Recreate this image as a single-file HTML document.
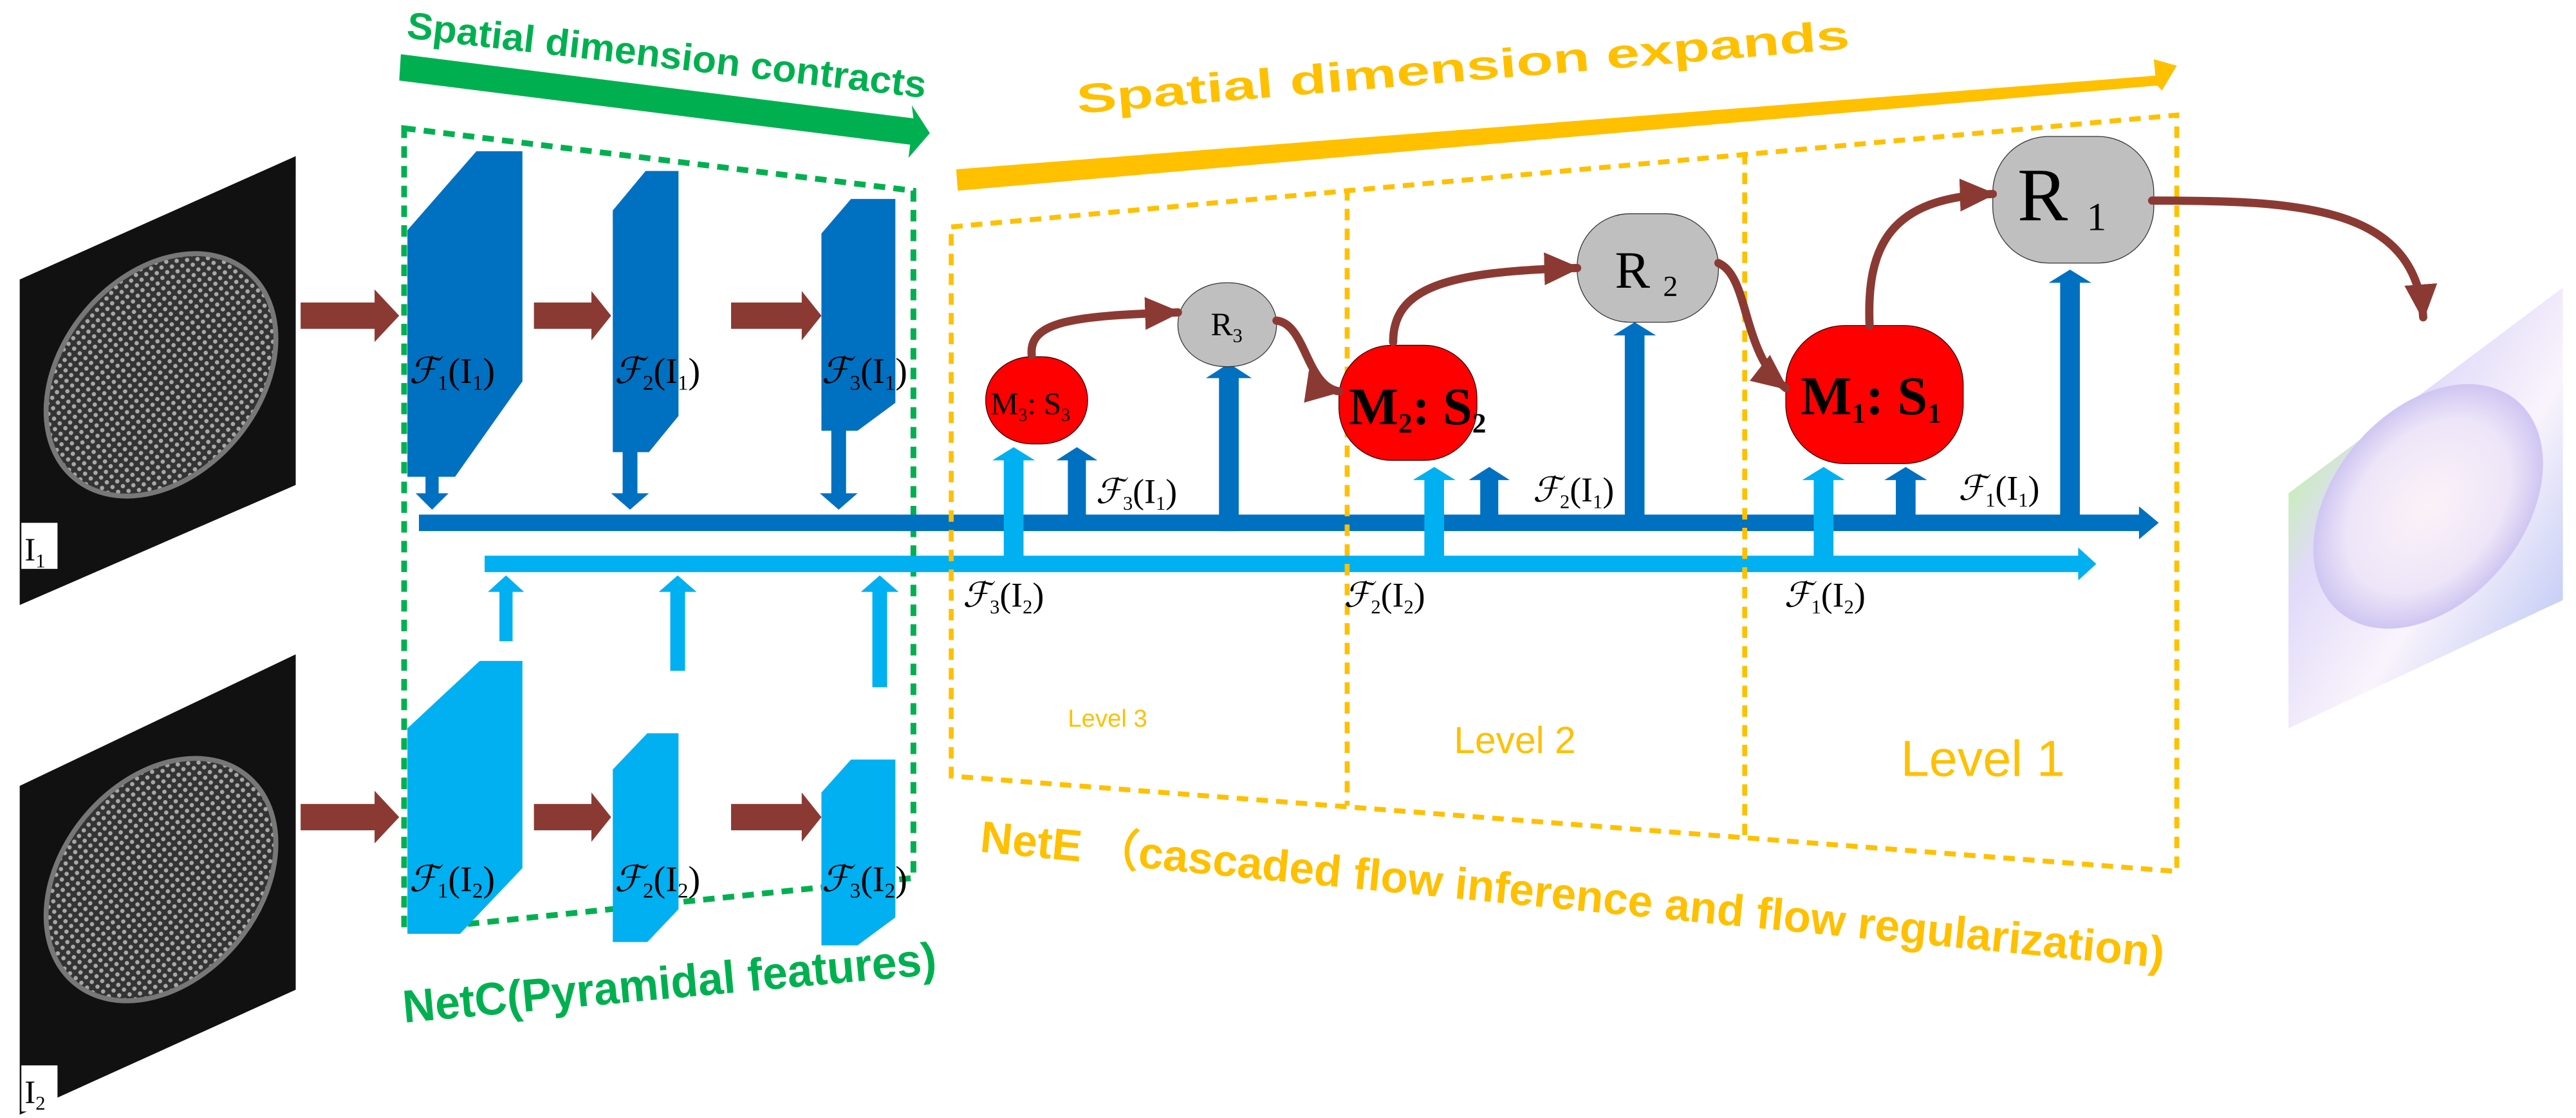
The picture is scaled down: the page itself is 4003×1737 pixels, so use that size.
<!DOCTYPE html>
<html><head><meta charset="utf-8"><style>
html,body{margin:0;padding:0;background:#fff;}
svg{display:block;}
.f{font-family:"Liberation Serif","DejaVu Serif",serif;fill:#000;}
.s{font-family:"Liberation Sans","DejaVu Sans",sans-serif;font-weight:bold;}
</style></head><body>
<svg width="4003" height="1737" viewBox="0 0 1568 680" preserveAspectRatio="none" xmlns="http://www.w3.org/2000/svg">
<defs>
<pattern id="dots" width="4.5" height="4.5" patternUnits="userSpaceOnUse">
<rect width="4.5" height="4.5" fill="#333"/><circle cx="2.25" cy="2.25" r="1.3" fill="#a8a8a8"/>
</pattern>
<linearGradient id="flow" x1="0" y1="0" x2="1" y2="1">
<stop offset="0" stop-color="#ffc890"/><stop offset="0.2" stop-color="#b8f0a0"/><stop offset="0.35" stop-color="#dcd4f8"/><stop offset="0.6" stop-color="#f8f2fb"/><stop offset="0.85" stop-color="#c0c8f5"/><stop offset="1" stop-color="#f0a0f0"/>
</linearGradient>
<radialGradient id="oval" cx="0.5" cy="0.5" r="0.5">
<stop offset="0" stop-color="#fbf2f8"/><stop offset="0.7" stop-color="#eee6f8"/><stop offset="1" stop-color="#cfc6f2"/>
</radialGradient>
<marker id="ah" markerWidth="22" markerHeight="20" refX="20" refY="10" orient="auto" markerUnits="userSpaceOnUse">
<polygon points="0,0 22,10 0,20" fill="#8B3A33"/>
</marker>
</defs>

<g>
<polygon points="12,170 180,95 180,295 12,368" fill="#111"/>
<ellipse cx="98" cy="228" rx="60" ry="82" transform="rotate(40 98 228)" fill="url(#dots)" stroke="#777" stroke-width="3"/>
<rect x="13" y="318" width="22" height="28" fill="#fff"/>
<text x="15" y="341" class="f" font-size="20">I<tspan font-size="12" dy="4">1</tspan></text>
<polygon points="12,478 180,398 180,602 12,678" fill="#111"/>
<ellipse cx="98" cy="535" rx="60" ry="82" transform="rotate(40 98 535)" fill="url(#dots)" stroke="#777" stroke-width="3"/>
<rect x="13" y="648" width="22" height="28" fill="#fff"/>
<text x="15" y="671" class="f" font-size="20">I<tspan font-size="12" dy="4">2</tspan></text>
</g>

<g fill="#8B3A33">
<polygon points="183,184 228,184 228,176 243,192 228,208 228,200 183,200"/>
<polygon points="183,489 228,489 228,481 243,497 228,513 228,505 183,505"/>
<polygon points="325,184 360,184 360,177 372,192 360,207 360,200 325,200"/>
<polygon points="445,184 488,184 488,177 500,192 488,207 488,200 445,200"/>
<polygon points="325,489 360,489 360,482 372,497 360,512 360,505 325,505"/>
<polygon points="445,489 488,489 488,482 500,497 488,512 488,505 445,505"/>
</g>

<path d="M246,78 L556,116 L556,534 L246,566 Z" fill="none" stroke="#00B050" stroke-width="3.5" stroke-dasharray="7,5"/>
<polygon points="244,33 556,72 555,64 566,81 553,96 554,88 243,49" fill="#00B050"/>
<text class="s" font-size="23" fill="#00B050" transform="translate(247,23) rotate(6.6)" textLength="318" lengthAdjust="spacingAndGlyphs">Spatial dimension contracts</text>
<text class="s" font-size="28" fill="#00B050" transform="translate(246,622) rotate(-5.2)" textLength="326" lengthAdjust="spacingAndGlyphs">NetC(Pyramidal features)</text>

<g fill="#0070C0">
<polygon points="248,140 290,92 318,92 318,232 277,290 248,290"/>
<polygon points="373,128 393,104 413,104 413,253 395,275 373,275"/>
<polygon points="500,142 518,121 545,121 545,245 522,262 500,262"/>
<polygon points="259,272 267,272 267,300 273,300 263,310 253,300 259,300"/>
<polygon points="379,262 388,262 388,300 395,300 383.5,310 372,300 379,300"/>
<polygon points="506,252 515,252 515,300 522,300 510.5,310 499,300 506,300"/>
<polygon points="255,313 1302,313 1302,308 1314,318 1302,328 1302,323 255,323"/>
</g>
<g fill="#00B0F0">
<polygon points="248,443 292,402 318,402 318,528 280,568 248,568"/>
<polygon points="373,468 394,446 413,446 413,553 394,573 373,573"/>
<polygon points="500,482 518,462 545,462 545,558 522,575 500,575"/>
<polygon points="304,390 312,390 312,360 319,360 308,350 297,360 304,360"/>
<polygon points="408,408 417,408 417,360 424,360 412.5,350 401,360 408,360"/>
<polygon points="531,418 540,418 540,360 547,360 535.5,350 524,360 531,360"/>
<polygon points="295,338 1265,338 1265,333 1276,343 1265,353 1265,348 295,348"/>
</g>
<g class="f" font-size="22">
<text x="249" y="233" font-style="italic">ℱ<tspan font-size="13" dy="4" font-style="normal">1</tspan><tspan dy="-4" font-style="normal">(I<tspan font-size="13" dy="4">1</tspan><tspan dy="-4">)</tspan></tspan></text>
<text x="374" y="233" font-style="italic">ℱ<tspan font-size="13" dy="4" font-style="normal">2</tspan><tspan dy="-4" font-style="normal">(I<tspan font-size="13" dy="4">1</tspan><tspan dy="-4">)</tspan></tspan></text>
<text x="500" y="233" font-style="italic">ℱ<tspan font-size="13" dy="4" font-style="normal">3</tspan><tspan dy="-4" font-style="normal">(I<tspan font-size="13" dy="4">1</tspan><tspan dy="-4">)</tspan></tspan></text>
<text x="249" y="542" font-style="italic">ℱ<tspan font-size="13" dy="4" font-style="normal">1</tspan><tspan dy="-4" font-style="normal">(I<tspan font-size="13" dy="4">2</tspan><tspan dy="-4">)</tspan></tspan></text>
<text x="374" y="542" font-style="italic">ℱ<tspan font-size="13" dy="4" font-style="normal">2</tspan><tspan dy="-4" font-style="normal">(I<tspan font-size="13" dy="4">2</tspan><tspan dy="-4">)</tspan></tspan></text>
<text x="500" y="542" font-style="italic">ℱ<tspan font-size="13" dy="4" font-style="normal">3</tspan><tspan dy="-4" font-style="normal">(I<tspan font-size="13" dy="4">2</tspan><tspan dy="-4">)</tspan></tspan></text>
</g>

<polygon points="582,103 1312,46 1311,36 1325,40 1316,55 1313,52 583,116" fill="#FFC000"/>
<text class="s" font-size="25" fill="#FFC000" transform="translate(656,69) rotate(-4.8)" textLength="472" lengthAdjust="spacingAndGlyphs">Spatial dimension expands</text>
<path d="M579,138 L1325,70 L1325,530 L579,472 Z" fill="none" stroke="#FFC000" stroke-width="3" stroke-dasharray="7,5"/>
<line x1="820" y1="115" x2="820" y2="490" stroke="#FFC000" stroke-width="3" stroke-dasharray="7,5"/>
<line x1="1062" y1="93" x2="1062" y2="510" stroke="#FFC000" stroke-width="3" stroke-dasharray="7,5"/>
<text x="650" y="442" font-family="Liberation Sans,sans-serif" font-size="15" fill="#FFC000">Level 3</text>
<text x="885" y="458" font-family="Liberation Sans,sans-serif" font-size="23" fill="#FFC000">Level 2</text>
<text x="1157" y="472" font-family="Liberation Sans,sans-serif" font-size="31" fill="#FFC000">Level 1</text>
<text class="s" font-size="27" fill="#FFC000" transform="translate(596,518) rotate(5.6)" textLength="724" lengthAdjust="spacingAndGlyphs">NetE （cascaded flow inference and flow regularization)</text>

<g fill="#00B0F0">
<polygon points="611,343 623,343 623,280 630,280 617,272 604,280 611,280"/>
<polygon points="867,343 879,343 879,292 886,292 873,284 860,292 867,292"/>
<polygon points="1104,343 1116,343 1116,292 1123,292 1110,284 1097,292 1104,292"/>
</g>
<g fill="#0070C0">
<polygon points="650,318 661,318 661,280 668,280 655.5,272 643,280 650,280"/>
<polygon points="742,323 754,323 754,230 762,230 748,221 734,230 742,230"/>
<polygon points="901,318 912,318 912,292 919,292 906.5,284 894,292 901,292"/>
<polygon points="989,318 1001,318 1001,204 1008,204 995,196 982,204 989,204"/>
<polygon points="1154,318 1166,318 1166,292 1173,292 1160,284 1147,292 1154,292"/>
<polygon points="1254,318 1266,318 1266,172 1273,172 1260,164 1247,172 1254,172"/>
</g>
<g class="f" font-size="21">
<text x="667" y="306" font-style="italic">ℱ<tspan font-size="12" dy="4" font-style="normal">3</tspan><tspan dy="-4" font-style="normal">(I<tspan font-size="12" dy="4">1</tspan><tspan dy="-4">)</tspan></tspan></text>
<text x="586" y="369" font-style="italic">ℱ<tspan font-size="12" dy="4" font-style="normal">3</tspan><tspan dy="-4" font-style="normal">(I<tspan font-size="12" dy="4">2</tspan><tspan dy="-4">)</tspan></tspan></text>
<text x="933" y="305" font-style="italic">ℱ<tspan font-size="12" dy="4" font-style="normal">2</tspan><tspan dy="-4" font-style="normal">(I<tspan font-size="12" dy="4">1</tspan><tspan dy="-4">)</tspan></tspan></text>
<text x="818" y="369" font-style="italic">ℱ<tspan font-size="12" dy="4" font-style="normal">2</tspan><tspan dy="-4" font-style="normal">(I<tspan font-size="12" dy="4">2</tspan><tspan dy="-4">)</tspan></tspan></text>
<text x="1192" y="304" font-style="italic">ℱ<tspan font-size="12" dy="4" font-style="normal">1</tspan><tspan dy="-4" font-style="normal">(I<tspan font-size="12" dy="4">1</tspan><tspan dy="-4">)</tspan></tspan></text>
<text x="1086" y="369" font-style="italic">ℱ<tspan font-size="12" dy="4" font-style="normal">1</tspan><tspan dy="-4" font-style="normal">(I<tspan font-size="12" dy="4">2</tspan><tspan dy="-4">)</tspan></tspan></text>
</g>

<rect x="600" y="217" width="62" height="53" rx="28" ry="26" fill="#FF0000" stroke="#300" stroke-width="0.5"/>
<text x="603" y="252" class="f" font-size="19">M<tspan font-size="11" dy="4">3</tspan><tspan dy="-4">:  S</tspan><tspan font-size="11" dy="4">3</tspan></text>
<rect x="717" y="172" width="60" height="51" rx="29" ry="25" fill="#BFBFBF" stroke="#333" stroke-width="0.5"/>
<text x="737" y="204" class="f" font-size="20">R<tspan font-size="12" dy="4">3</tspan></text>
<rect x="815" y="210" width="84" height="70" rx="32" ry="32" fill="#FF0000" stroke="#300" stroke-width="0.5"/>
<text x="821" y="258" class="f" font-size="32" font-weight="bold">M<tspan font-size="17" dy="5">2</tspan><tspan dy="-5">: S</tspan><tspan font-size="17" dy="5">2</tspan></text>
<rect x="960" y="130" width="86" height="66" rx="32" ry="32" fill="#BFBFBF" stroke="#333" stroke-width="0.5"/>
<text x="983" y="175" class="f" font-size="32">R <tspan font-size="18" dy="5">2</tspan></text>
<rect x="1087" y="198" width="108" height="84" rx="36" ry="36" fill="#FF0000" stroke="#300" stroke-width="0.5"/>
<text x="1096" y="252" class="f" font-size="33" font-weight="bold">M<tspan font-size="17" dy="5">1</tspan><tspan dy="-5">:  S</tspan><tspan font-size="17" dy="5">1</tspan></text>
<rect x="1213" y="83" width="98" height="77" rx="34" ry="34" fill="#BFBFBF" stroke="#333" stroke-width="0.5"/>
<text x="1228" y="134" class="f" font-size="46">R <tspan font-size="24" dy="6">1</tspan></text>

<g fill="none" stroke="#8B3A33" stroke-width="5" stroke-linecap="round" marker-end="url(#ah)">
<path d="M628,216 C626,195 655,192 717,190"/>
<path d="M777,195 C795,197 795,235 815,238"/>
<path d="M848,208 C848,175 880,165 960,163"/>
<path d="M1046,160 C1065,168 1060,215 1087,236"/>
<path d="M1138,198 C1136,150 1150,120 1213,118"/>
<path d="M1310,122 C1400,122 1470,125 1475,193"/>
</g>

<polygon points="1393,300 1560,175 1560,365 1393,443" fill="url(#flow)" opacity="0.85"/>
<ellipse cx="1478" cy="308" rx="58" ry="84" transform="rotate(40 1478 308)" fill="url(#oval)"/>
</svg>
</body></html>
